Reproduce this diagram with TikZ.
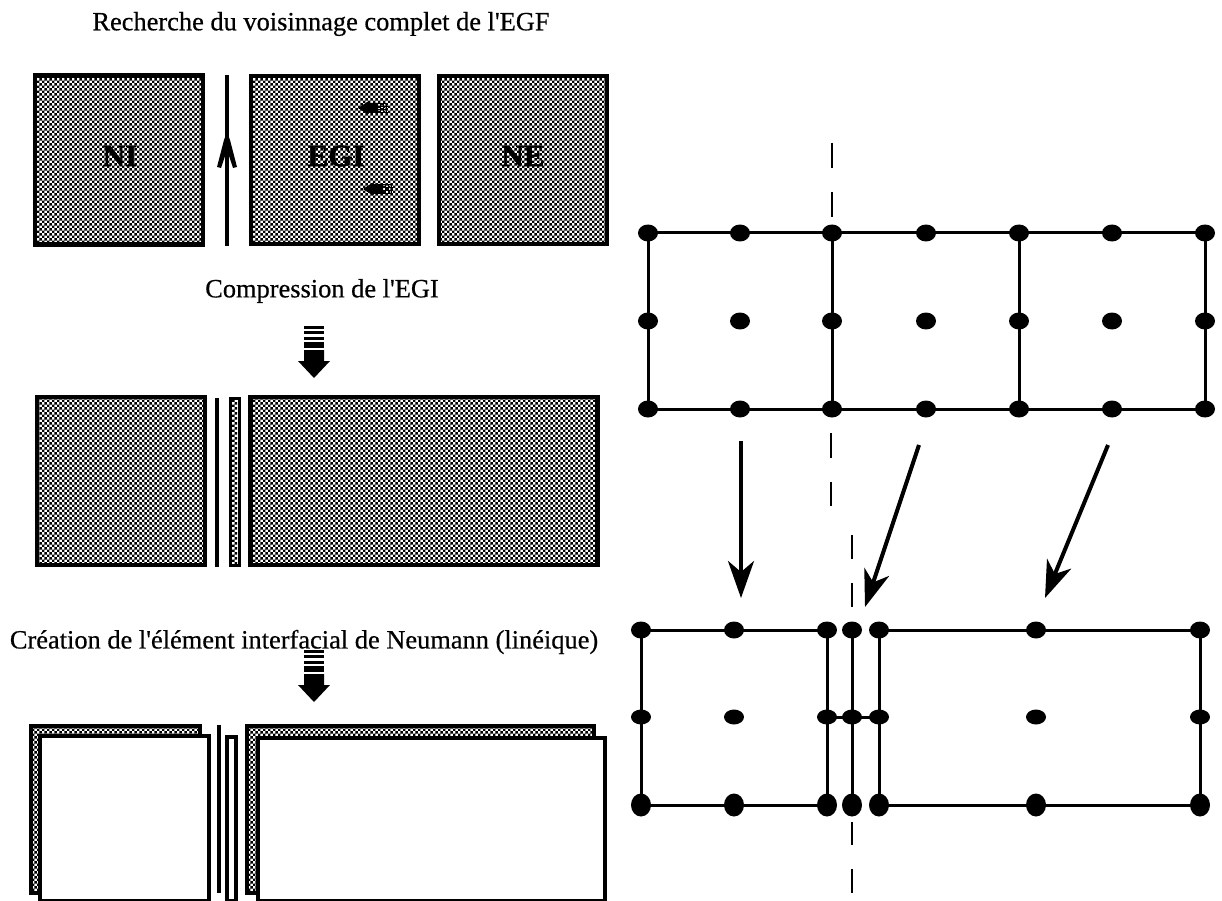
\documentclass[tikz,border=0pt]{standalone}
\usepackage{fontspec}
\setmainfont{Liberation Serif}
\newfontfamily\captfont[FakeBold=0.5]{Liberation Serif}
\newfontfamily\labfont[FakeBold=1.5]{Liberation Serif}
\usetikzlibrary{patterns,arrows.meta,shapes.geometric}
\pgfdeclarepatternformonly{dith}{\pgfpointorigin}{\pgfqpoint{5.4pt}{5.4pt}}{\pgfqpoint{5.4pt}{5.4pt}}{
  \pgfpathrectangle{\pgfpointorigin}{\pgfqpoint{2.7pt}{2.7pt}}
  \pgfpathrectangle{\pgfqpoint{2.7pt}{2.7pt}}{\pgfqpoint{2.7pt}{2.7pt}}
  \pgfusepath{fill}}
\tikzset{
  capt/.style={font=\captfont\fontsize{26.4}{30}\selectfont,inner sep=0pt,text=black},
  hatched/.style={draw=black,line width=4.5pt,pattern=dith,pattern color=black,inner sep=0pt},
  backbox/.style={draw=black,line width=4pt,pattern=dith,pattern color=black},
  frontbox/.style={draw=black,line width=4pt,fill=white},
  biglab/.style={font=\labfont\bfseries\fontsize{31}{34}\selectfont,inner sep=0pt},
  bar/.style={line width=4pt,draw=black},
  meshline/.style={line width=3pt,draw=black},
  pt/.style={ellipse,fill=black,inner sep=0pt,minimum width=20pt,minimum height=17pt},
  ptt/.style={ellipse,fill=black,inner sep=0pt,minimum width=20pt,minimum height=23pt},
  axis/.style={line width=2.2pt,draw=black},
  down/.style={line width=4pt,draw=black,-{Stealth[length=37pt,width=26pt,inset=11pt]}},
}
\newcommand{\stripearrow}[2]{%
 \begin{scope}[shift={(#1,#2)}]
  \fill (-10,0) rectangle (10,2.5);
  \fill (-10,5) rectangle (10,7.5);
  \fill (-10,10.5) rectangle (10,14);
  \fill (-10,16) rectangle (10,22);
  \fill (-10,24) -- (10,24) -- (10,35) -- (16,35) -- (0,52) -- (-16,35) -- (-10,35) -- cycle;
 \end{scope}}
\newcommand{\smallarrow}[2]{%
 \begin{scope}[shift={(#1,#2)}]
  \fill (0,0) -- (10,-6.5) -- (11,-5) -- (20,-5) -- (20,5) -- (11,5) -- (10,6.5) -- cycle;
  \draw[line width=.8pt] (20,-4.5) -- (30,-4.5) (20,-1.5) -- (30,-1.5) (20,1.5) -- (30,1.5) (20,4.5) -- (30,4.5)
    (22,-5) -- (22,5) (25,-5) -- (25,5) (28,-5) -- (28,5);
 \end{scope}}
\begin{document}
\begin{tikzpicture}[x=1pt,y=-1pt]
\useasboundingbox (0,0) rectangle (1222,901);
\node[capt] (t1) at (321,24) {Recherche du voisinnage complet de l'EGF};
\node[capt] (t2) at (322,291) {Compression de l'EGI};
\node[capt] (t3) at (304,642) {Création de l'élément interfacial de Neumann (linéique)};
% row 1
\node[hatched,minimum width=168pt,minimum height=169pt] (ni) at (119,160) {};
\node[hatched,minimum width=168pt,minimum height=168pt] (egi) at (335,160) {};
\node[hatched,minimum width=168pt,minimum height=168pt] (ne) at (523,160) {};
\node[biglab] (nil) at (120,156) {NI};
\node[biglab] (egil) at (336,156) {EGI};
\node[biglab] (nel) at (523,156) {NE};
\coordinate (ua) at (227,246);
\coordinate (ub) at (227,75);
\draw[bar] (ua) -- (ub);
\fill (227,132) -- (230,140) -- (237,167) -- (233,168) -- (227,150) -- (221,168) -- (217,167) -- (224,140) -- cycle;
\smallarrow{358}{108}
\smallarrow{363}{189}
\stripearrow{314}{326}
% row 2
\node[hatched,minimum width=168pt,minimum height=168pt] (l2) at (121,481) {};
\coordinate (l2a) at (217,398);
\coordinate (l2b) at (217,567);
\draw[bar] (l2a) -- (l2b);
\node[hatched,line width=3pt,minimum width=9pt,minimum height=167pt] (m2) at (235,482) {};
\node[hatched,minimum width=347pt,minimum height=168pt] (r2) at (424,481) {};
\stripearrow{314}{650}
% row 3
\draw[backbox] (31,726) rectangle (200,893);
\draw[frontbox] (40,736) rectangle (209,901);
\coordinate (l3a) at (219,725);
\coordinate (l3b) at (219,893);
\draw[bar] (l3a) -- (l3b);
\draw[frontbox] (227,737) rectangle (236,901);
\draw[backbox] (247,726) rectangle (594,893);
\draw[frontbox] (258,738) rectangle (605,901);
% upper mesh
\foreach \n/\x in {a/648,b/740,c/832,d/926,e/1019,f/1112,g/1205}{
  \coordinate (\n1) at (\x,233);
  \coordinate (\n2) at (\x,321);
  \coordinate (\n3) at (\x,409);
}
\draw[meshline] (a1) -- (g1) (a3) -- (g3)
  (a1) -- (a3) (c1) -- (c3) (e1) -- (e3) (g1) -- (g3);
\foreach \n in {a,b,c,d,e,f,g}{
  \node[pt] (\n T) at (\n1) {};
  \node[pt] (\n M) at (\n2) {};
  \node[pt] (\n B) at (\n3) {};
}
% lower mesh
\foreach \n/\x in {p/641,q/734,r/827,s/852,t/879,u/1036,v/1200}{
  \coordinate (\n1) at (\x,630);
  \coordinate (\n2) at (\x,717);
  \coordinate (\n3) at (\x,805);
}
\draw[meshline] (p1) -- (r1) (t1) -- (v1) (p3) -- (r3) (t3) -- (v3)
  (p1) -- (p3) (r1) -- (r3) (s1) -- (s3) (t1) -- (t3) (v1) -- (v3) (r2) -- (t2);
\foreach \n in {p,q,r,s,t,u,v}{
  \node[pt] (\n T) at (\n1) {};
  \node[pt,minimum height=15pt] (\n M) at (\n2) {};
  \node[ptt] (\n B) at (\n3) {};
}
% axes
\coordinate (x1a) at (832,143); \coordinate (x1b) at (832,168);
\coordinate (x2a) at (832,192); \coordinate (x2b) at (832,217);
\coordinate (x3a) at (831,433); \coordinate (x3b) at (831,458);
\coordinate (x4a) at (831,482); \coordinate (x4b) at (831,506);
\coordinate (x5a) at (852,535); \coordinate (x5b) at (852,559);
\coordinate (x6a) at (852,583); \coordinate (x6b) at (852,607);
\coordinate (x7a) at (852,822); \coordinate (x7b) at (852,845);
\coordinate (x8a) at (852,869); \coordinate (x8b) at (852,893);
\draw[axis] (x1a) -- (x1b) (x2a) -- (x2b) (x3a) -- (x3b) (x4a) -- (x4b) (x5a) -- (x5b) (x6a) -- (x6b) (x7a) -- (x7b) (x8a) -- (x8b);
% arrows
\coordinate (d1a) at (741,441); \coordinate (d1b) at (741,598);
\coordinate (d2a) at (919,445); \coordinate (d2b) at (865,607);
\coordinate (d3a) at (1108,445); \coordinate (d3b) at (1045,598);
\draw[down] (d1a) -- (d1b);
\draw[down] (d2a) -- (d2b);
\draw[down] (d3a) -- (d3b);
\end{tikzpicture}
\end{document}
